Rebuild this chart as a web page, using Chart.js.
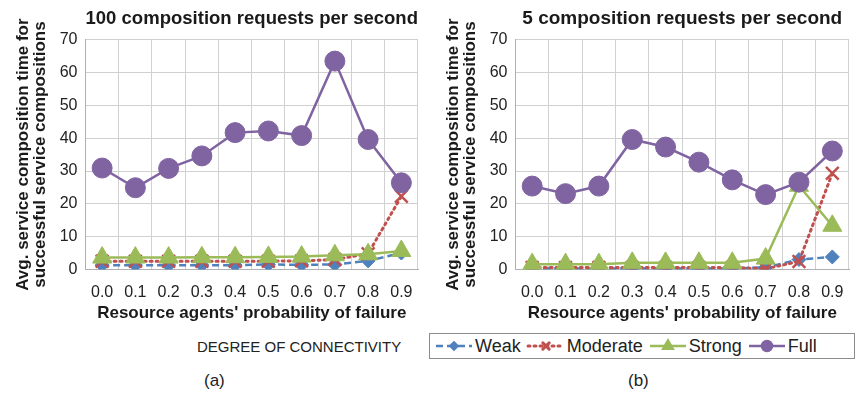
<!DOCTYPE html>
<html>
<head>
<meta charset="utf-8">
<script src="https://cdn.jsdelivr.net/npm/chart.js@4"></script>
<style>
body{margin:0;background:#fff;font-family:"Liberation Sans",Arial,sans-serif;}
#wrap{position:relative;width:861px;height:400px;overflow:hidden;}
.box{position:absolute;top:0;height:324px;}
#boxA{left:0;width:430px;}
#boxB{left:430px;width:431px;}
#degree{position:absolute;left:197px;top:338px;font-size:15px;color:#222;}
#legend{position:absolute;left:429px;top:333px;width:420px;height:24px;padding-left:4px;border:1px solid #8c8c8c;display:flex;align-items:center;font-size:18px;color:#222;}
#legend span{display:flex;align-items:center;margin-right:5px;}
#legend canvas{margin-right:1px;}
.cap{position:absolute;top:371px;font-size:17px;color:#222;}
</style>
</head>
<body>
<div id="wrap">
<div class="box" id="boxA"><canvas id="chartA"></canvas></div>
<div class="box" id="boxB"><canvas id="chartB"></canvas></div>
<div id="degree">DEGREE OF CONNECTIVITY</div>
<div id="legend"></div>
<div class="cap" style="left:204px">(a)</div>
<div class="cap" style="left:628px">(b)</div>
</div>
<script>
// data
const probs=["0.0","0.1","0.2","0.3","0.4","0.5","0.6","0.7","0.8","0.9"];
const seriesNames=["Weak","Moderate","Strong","Full"];
const yTicks=[0,10,20,30,40,50,60,70];

// (a) 100 composition requests per second
const weakA=[1.3,1.3,1.3,1.3,1.3,1.5,1.4,1.5,2.6,5.0];
const moderateA=[2.5,2.5,2.5,2.5,2.5,2.5,2.6,3.0,4.8,22.3];
const strongA=[3.6,3.6,3.6,3.7,3.7,3.8,3.9,4.3,4.6,5.6];
const fullA=[30.9,24.9,30.8,34.6,41.7,42.2,40.8,63.5,39.6,26.4];

// (b) 5 composition requests per second
const weakB=[0.3,0.3,0.3,0.3,0.3,0.3,0.3,0.6,3.0,3.8];
const moderateB=[0.6,0.6,0.6,0.6,0.6,0.6,0.6,0.2,2.4,29.3];
const strongB=[1.6,1.6,1.6,2.0,2.0,2.0,2.0,3.3,25.5,13.3];
const fullB=[25.4,23.1,25.4,39.6,37.3,32.7,27.3,22.8,26.6,36.1];

const FONT='"Liberation Sans", Arial, sans-serif';

const looks=[
{color:"#4f81bd",dash:[7,4],width:2.5,point:"rectRot",radius:7,order:4},
{color:"#c0504d",dash:[2,4],width:3,point:"crossRot",radius:9,order:3},
{color:"#9bbb59",dash:[],width:2.5,point:"triangle",radius:11,order:2},
{color:"#8064a2",dash:[],width:2.5,point:"circle",radius:10,order:1}
];

function makeSets(lists){
return lists.map((d,i)=>{
let s=looks[i];
return {
label:seriesNames[i],
data:d,
borderColor:s.color,
backgroundColor:s.color,
borderWidth:s.width,
borderDash:s.dash,
borderCapStyle:s.dash.length&&s.dash[0]<3?"round":"butt",
pointStyle:s.point,
pointRadius:s.radius,
pointBorderWidth:s.point=="crossRot"?2.5:1,
pointBackgroundColor:s.color,
pointBorderColor:s.color,
tension:0,
order:s.order
};
});
}

function makeChart(id,title,lists){
new Chart(document.getElementById(id),{
type:"line",
data:{labels:probs,datasets:makeSets(lists)},
options:{
responsive:true,
maintainAspectRatio:false,
animation:false,
layout:{padding:{left:14,right:7,top:0,bottom:0}},
plugins:{
legend:{display:false},
tooltip:{enabled:false},
title:{
display:true,
text:title,
fullSize:false,
color:"#1a1a1a",
font:{family:FONT,size:19,weight:"bold"},
padding:{top:7,bottom:10}
}
},
scales:{
x:{
offset:true,
grid:{offset:true,color:"#d0d0d0",drawTicks:false},
border:{color:"#b0b0b0"},
ticks:{color:"#222",font:{family:FONT,size:16},padding:14,maxRotation:0,autoSkip:false},
title:{display:true,text:"Resource agents' probability of failure",color:"#1a1a1a",
font:{family:FONT,size:17,weight:"bold"},padding:{top:-13,bottom:0}}
},
y:{
min:0,max:70,
afterBuildTicks:s=>{s.ticks=yTicks.map(v=>({value:v}));},
grid:{color:"#d0d0d0",drawTicks:false},
border:{color:"#b0b0b0"},
ticks:{color:"#222",font:{family:FONT,size:16},padding:8},
title:{display:true,text:["Avg. service composition time for","successful service compositions"],
color:"#1a1a1a",font:{family:FONT,size:17,weight:"bold",lineHeight:1.05},padding:{top:0,bottom:2}}
}
}
}
});
}

makeChart("chartA","100 composition requests per second",[weakA,moderateA,strongA,fullA]);
makeChart("chartB","5 composition requests per second",[weakB,moderateB,strongB,fullB]);

// legend in the Excel style: line with marker in the middle
let leg=document.getElementById("legend");
seriesNames.forEach((name,i)=>{
let s=looks[i];
let item=document.createElement("span");
let c=document.createElement("canvas");
c.width=40;c.height=16;
let ctx=c.getContext("2d");
ctx.strokeStyle=s.color;
ctx.lineWidth=s.width;
ctx.setLineDash(s.dash);
if(s.dash.length&&s.dash[0]<3)ctx.lineCap="round";
ctx.beginPath();ctx.moveTo(2,8);ctx.lineTo(38,8);ctx.stroke();
ctx.setLineDash([]);
Chart.helpers.drawPoint(ctx,{pointStyle:s.point,radius:s.radius*0.5,borderWidth:s.point=="crossRot"?2:1},20,8);
ctx.fillStyle=s.color;
ctx.fill();
item.appendChild(c);
item.appendChild(document.createTextNode(name));
leg.appendChild(item);
});
</script>
</body>
</html>
